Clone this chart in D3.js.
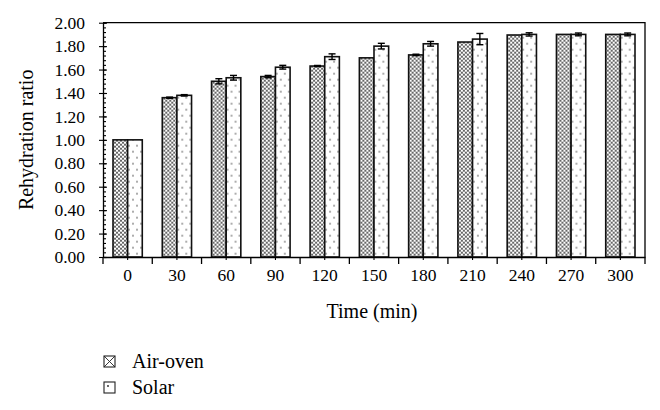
<!DOCTYPE html>
<html>
<head>
<meta charset="utf-8">
<script src="https://cdnjs.cloudflare.com/ajax/libs/d3/7.8.5/d3.min.js"></script>
<style>
  body { margin: 0; background: #fff; }
  svg { display: block; }
  svg text { font-family: "Liberation Serif", "DejaVu Serif", serif; fill: #000; }
</style>
</head>
<body>
<svg width="660" height="410"></svg>
<script>
var times = ["0", "30", "60", "90", "120", "150", "180", "210", "240", "270", "300"];
var seriesNames = ["Air-oven", "Solar"];
var airOven = [1.00, 1.36, 1.50, 1.54, 1.63, 1.70, 1.725, 1.835, 1.895, 1.90, 1.90];
var solar = [1.00, 1.38, 1.53, 1.62, 1.71, 1.80, 1.82, 1.86, 1.90, 1.90, 1.90];
var airErr = [0, 0.005, 0.022, 0.01, 0.005, 0, 0.006, 0, 0, 0, 0];
var solarErr = [0, 0.006, 0.02, 0.016, 0.024, 0.024, 0.02, 0.048, 0.014, 0.012, 0.012];
var yTicks = [0, 0.2, 0.4, 0.6, 0.8, 1.0, 1.2, 1.4, 1.6, 1.8, 2.0];

var svg = d3.select("svg");
var defs = svg.append("defs");

var margin = {top: 22.7, right: 15, bottom: 153, left: 103};
var width = 660 - margin.left - margin.right;
var height = 410 - margin.top - margin.bottom;

// patterns: crosshatch for air-oven, dots for solar
var hatch = defs.append("pattern")
    .attr("id", "hatch")
    .attr("patternUnits", "userSpaceOnUse")
    .attr("width", 4).attr("height", 4);
hatch.append("rect").attr("width", 4).attr("height", 4).attr("fill", "#fff");
hatch.append("path")
    .attr("d", "M0,0L4,4M4,0L0,4M-1,3L1,5M3,-1L5,1M3,5L5,3M-1,1L1,-1")
    .attr("stroke", "#555").attr("stroke-width", 0.9);

var dots = defs.append("pattern")
    .attr("id", "dots")
    .attr("patternUnits", "userSpaceOnUse")
    .attr("width", 8).attr("height", 12);
dots.append("rect").attr("width", 8).attr("height", 12).attr("fill", "#fff");
dots.append("circle").attr("cx", 2).attr("cy", 3).attr("r", 0.8).attr("fill", "#444");
dots.append("circle").attr("cx", 6).attr("cy", 9).attr("r", 0.8).attr("fill", "#444");

var fills = {"Air-oven": "url(#hatch)", "Solar": "url(#dots)"};

var data = times.map(function(t, i) {
  return {
    time: t,
    values: [
      {name: "Air-oven", value: airOven[i], err: airErr[i]},
      {name: "Solar", value: solar[i], err: solarErr[i]}
    ]
  };
});

var x0 = d3.scaleBand().domain(times).range([0, width]).padding(0);
var x1 = d3.scaleBand().domain(seriesNames).range([10, x0.bandwidth() - 10]);
var y = d3.scaleLinear().domain([0, 2]).range([height, 0]);

var g = svg.append("g")
    .attr("transform", "translate(" + margin.left + "," + margin.top + ")");

// frame top and right
g.append("path")
    .attr("d", "M0,0H" + width + "V" + height)
    .attr("fill", "none").attr("stroke", "#000").attr("stroke-width", 1.3);

// bars
var groups = g.selectAll(".grp").data(data).enter().append("g")
    .attr("class", "grp")
    .attr("transform", function(d) { return "translate(" + x0(d.time) + ",0)"; });

groups.selectAll("rect").data(function(d) { return d.values; }).enter().append("rect")
    .attr("x", function(d) { return x1(d.name); })
    .attr("y", function(d) { return y(d.value); })
    .attr("width", x1.bandwidth())
    .attr("height", function(d) { return height - y(d.value); })
    .attr("fill", function(d) { return fills[d.name]; })
    .attr("stroke", "#111").attr("stroke-width", 1.6);

// error bars
var eb = groups.selectAll(".err").data(function(d) { return d.values.filter(function(v) { return v.err > 0; }); })
    .enter().append("g").attr("class", "err")
    .attr("stroke", "#000").attr("stroke-width", 1.4);
eb.append("line")
    .attr("x1", function(d) { return x1(d.name) + x1.bandwidth() / 2; })
    .attr("x2", function(d) { return x1(d.name) + x1.bandwidth() / 2; })
    .attr("y1", function(d) { return y(d.value + d.err); })
    .attr("y2", function(d) { return y(d.value - d.err); });
eb.selectAll(".cap").data(function(d) { return [d.value + d.err, d.value - d.err].map(function(v) { return {name: d.name, v: v}; }); })
    .enter().append("line")
    .attr("x1", function(d) { return x1(d.name) + x1.bandwidth() / 2 - 3.5; })
    .attr("x2", function(d) { return x1(d.name) + x1.bandwidth() / 2 + 3.5; })
    .attr("y1", function(d) { return y(d.v); })
    .attr("y2", function(d) { return y(d.v); });

// y axis: major ticks crossing, minor ticks inside
var yAxis = g.append("g").attr("class", "y axis");
yAxis.call(d3.axisLeft(y).tickValues(yTicks).tickSize(4).tickSizeOuter(0).tickFormat(d3.format(".2f")));
yAxis.selectAll(".tick line").attr("x2", 4).attr("x1", -4);
g.append("g").call(d3.axisRight(y).tickValues(d3.range(0, 2.001, 0.04)).tickSize(3).tickFormat(""))
  .call(function(s) { s.select(".domain").remove(); });

// x axis: ticks at band edges, short ticks at centers
var xAxis = g.append("g").attr("transform", "translate(0," + height + ")");
xAxis.call(d3.axisBottom(x0).tickSize(3).tickSizeOuter(0));
var edges = d3.range(0, times.length + 1).map(function(i) { return i * x0.step(); });
xAxis.selectAll(".edge").data(edges).enter().append("line")
    .attr("class", "edge")
    .attr("x1", function(d) { return d; }).attr("x2", function(d) { return d; })
    .attr("y1", 0).attr("y2", 7)
    .attr("stroke", "#000").attr("stroke-width", 1.3);

svg.selectAll(".domain").attr("stroke-width", 1.3);
svg.selectAll(".tick line").attr("stroke-width", 1.1);
svg.selectAll(".tick text").style("font-size", "17.5px").style("font-family", "'Liberation Serif', serif");
xAxis.selectAll(".tick text").attr("dy", "1.05em");
yAxis.selectAll(".tick text").attr("x", -18);

// axis titles
svg.append("text")
    .attr("transform", "translate(33," + (margin.top + height / 2) + ") rotate(-90)")
    .attr("text-anchor", "middle")
    .style("font-size", "20px")
    .text("Rehydration ratio");

svg.append("text")
    .attr("x", margin.left + width / 2 - 2)
    .attr("y", 318)
    .attr("text-anchor", "middle")
    .style("font-size", "20px")
    .text("Time (min)");

// legend
var legend = svg.append("g").attr("transform", "translate(104,356)");
var li = legend.selectAll("g").data(seriesNames).enter().append("g")
    .attr("transform", function(d, i) { return "translate(0," + i * 26 + ")"; });
li.append("rect").attr("width", 11).attr("height", 11)
    .attr("fill", "#fff").attr("stroke", "#222").attr("stroke-width", 1.1);
li.filter(function(d) { return d === "Air-oven"; }).append("path")
    .attr("d", "M0,0L11,11M11,0L0,11").attr("stroke", "#222").attr("stroke-width", 0.9);
li.filter(function(d) { return d === "Solar"; }).append("circle")
    .attr("cx", 4).attr("cy", 4).attr("r", 0.9).attr("fill", "#222");
li.append("text").attr("x", 28).attr("y", 12).style("font-size", "20px")
    .text(function(d) { return d; });
</script>
</body>
</html>
